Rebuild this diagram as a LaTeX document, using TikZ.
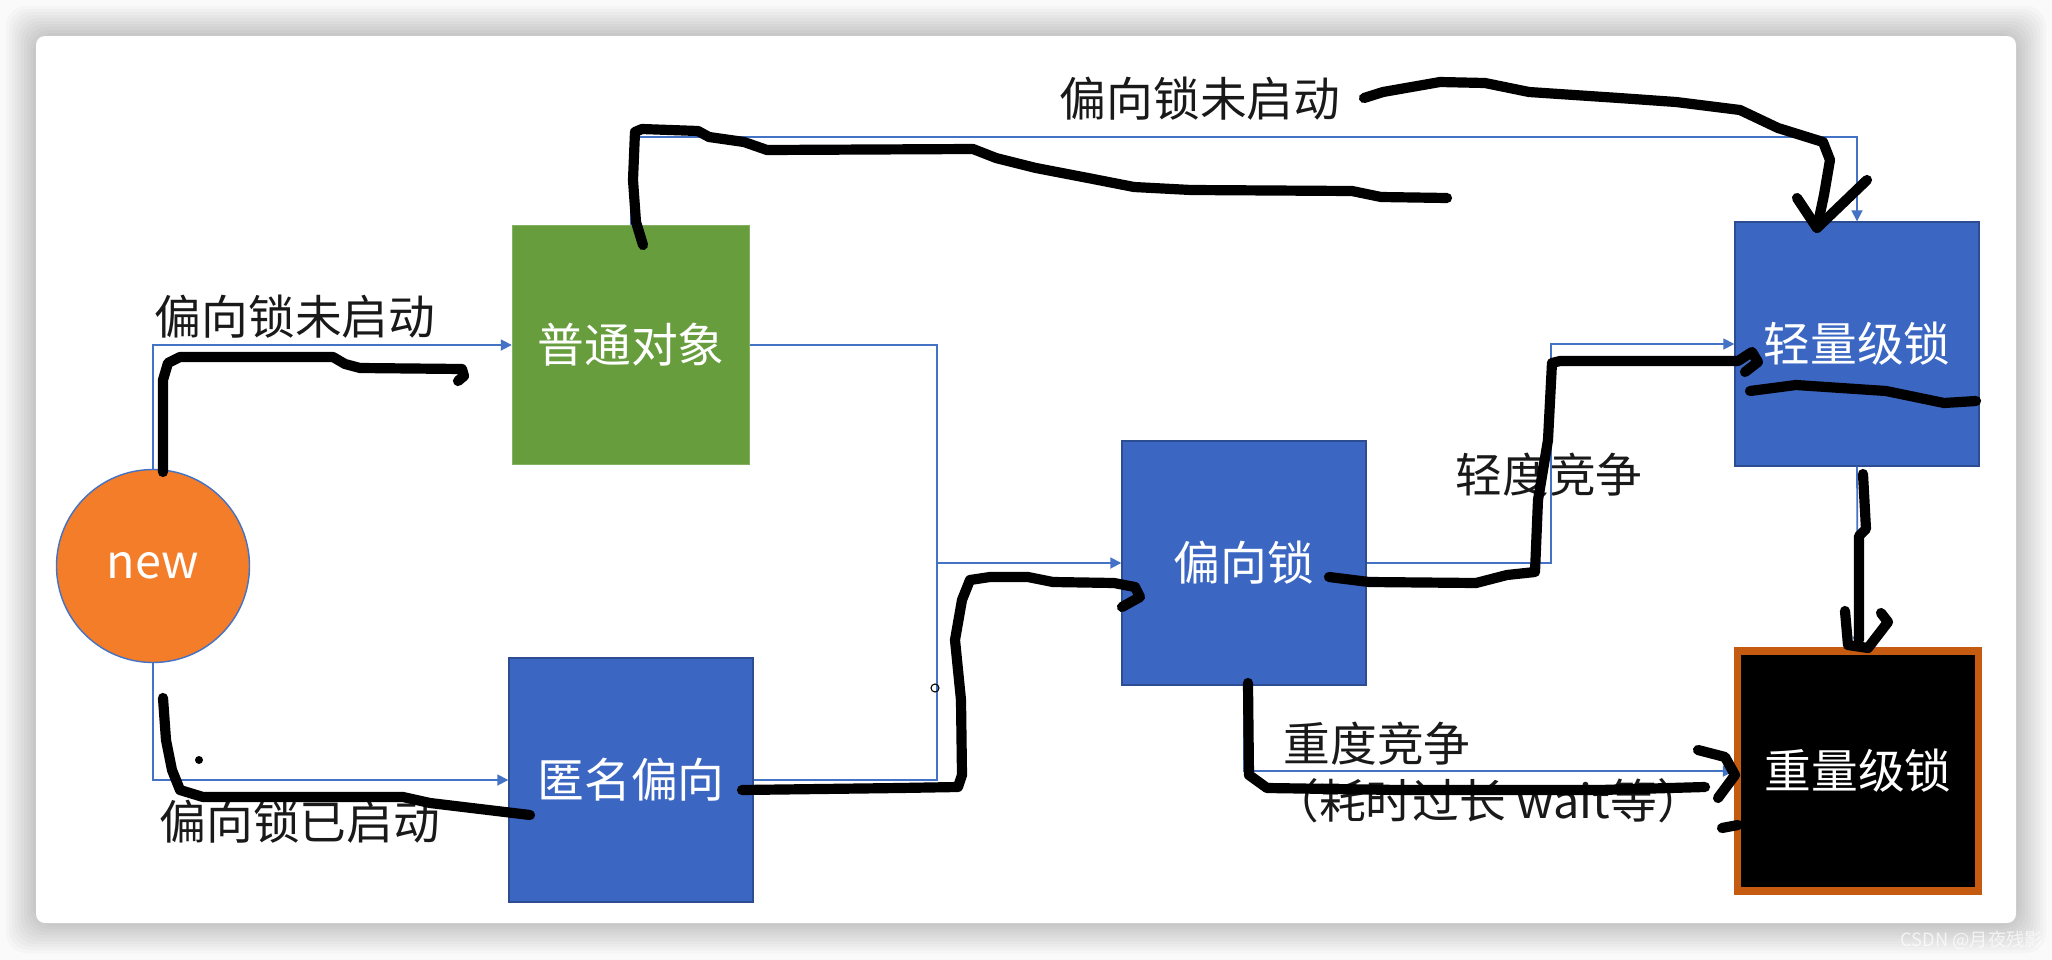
\documentclass[tikz,border=0pt]{standalone}
\usepackage{fontspec}
\setmainfont{Noto Sans CJK SC}
\usepackage{tikz}
\usetikzlibrary{arrows.meta,calc}
\definecolor{lineblue}{RGB}{68,114,196}
\definecolor{boxblue}{RGB}{59,103,195}
\definecolor{boxgreen}{RGB}{103,157,60}
\definecolor{neworange}{RGB}{244,125,42}
\definecolor{heavyedge}{RGB}{197,90,17}
\newcommand{\lbl}{\fontsize{13.3}{16}\selectfont}

\begin{document}
\begin{tikzpicture}[x=0.1mm,y=-0.1mm,
    box/.style={rectangle,minimum width=24.4mm,minimum height=24.4mm,inner sep=0pt,
      text=white,font=\lbl},
    tag/.style={inner sep=0pt,text=black!90,font=\lbl},
    conn/.style={draw=lineblue,line width=0.5pt,-{Triangle[length=1.1mm,width=1.1mm]}},
    ink/.style={draw=black,line width=2.9pt,line cap=round,line join=round}]
  \useasboundingbox (0,0) rectangle (2052,960);
  % page, shadow and card
  \fill[black!2] (0,0) rectangle (2052,960);
  \foreach \d in {30,27,...,3}
    \fill[black,opacity=0.02,rounded corners=2mm] ($(36,36)+(-\d,-\d)$) rectangle ($(2016,923)+(\d,\d)$);
  \fill[white,rounded corners=0.9mm] (36,36) rectangle (2016,923);

  % states
  \node[circle,fill=neworange,draw=lineblue,line width=0.4pt,minimum size=19.3mm,
    inner sep=0pt,text=white,font=\lbl] (new) at (153,566) {new};
  \node[box,fill=boxgreen,draw=boxgreen!80!white,minimum width=23.7mm,minimum height=23.9mm]
    (obj) at (631,345) {普通对象};
  \node[box,fill=boxblue,draw=boxblue!75!black] (anon) at (631,780) {匿名偏向};
  \node[box,fill=boxblue,draw=boxblue!75!black] (biased) at (1244,563) {偏向锁};
  \node[box,fill=boxblue,draw=boxblue!75!black] (light) at (1857,344) {轻量级锁};
  \node[box,fill=black,draw=heavyedge,line width=2pt,minimum width=24.1mm,minimum height=24mm]
    (heavy) at (1858,771) {重量级锁};

  % labels
  \node[tag] (off-left) at (295,317) {偏向锁未启动};
  \node[tag] (on-left) at (300,822) {偏向锁已启动};
  \node[tag] (off-top) at (1200,99) {偏向锁未启动};
  \node[tag] (mild) at (1549,475) {轻度竞争};
  \node[tag] (hard) at (1377,744) {重度竞争};
  \node[tag] (wait) at (1488,801) {（耗时过长 wait等）};

  % blue connectors
  \coordinate (jl) at (937,563);
  \coordinate (jr) at (1551,563);
  \coordinate (top) at (631,137);
  \draw[conn] (new.north) |- (obj.west);
  \draw[conn] (new.south) |- (anon.west);
  \draw[conn] (obj.east) -| (jl) -- (biased.west);
  \draw[conn,-] (anon.east) -| (jl);
  \draw[conn] (biased.east) -- (jr) |- (light.west);
  \draw[conn] (obj.north) -- (top) -| (light.north);
  \draw[conn] (biased.south) |- (heavy.west);
  \draw[conn] (light.south) -- (heavy.north);

  % pen strokes
  \draw[ink] (163,472) -- (163,380) -- (168,363) -- (180,357) -- (333,357) -- (345,364)
    -- (360,368) -- (462,369) -- (464,376) -- (458,381);
  \draw[ink] (163,698) -- (166,740) -- (172,770) -- (180,790) -- (203,797) -- (403,797)
    -- (430,803) -- (530,815);
  \fill (199,760) circle[radius=4];
  \draw[ink] (742,790) -- (900,788) -- (958,787) -- (962,775) -- (961,700) -- (955,640)
    -- (962,600) -- (970,580) -- (990,577) -- (1028,577) -- (1053,582) -- (1114,583)
    -- (1135,587) -- (1140,597) -- (1122,607);
  \draw[line width=0.3pt] (935,688) circle[radius=4];
  \draw[ink] (1329,577) -- (1369,582) -- (1476,583) -- (1507,575) -- (1535,572) -- (1538,500)
    -- (1548,440) -- (1552,363) -- (1560,361) -- (1738,361) -- (1752,352) -- (1758,362)
    -- (1745,372);
  \draw[ink] (1750,391) -- (1796,385) -- (1886,391) -- (1944,403) -- (1976,401);
  \draw[ink] (1863,474) -- (1866,529) -- (1859,536) -- (1859,640);
  \draw[ink] (1845,611) -- (1848,645) -- (1868,648) -- (1888,622) -- (1881,613);
  \draw[ink] (1248,683) -- (1249,775) -- (1267,788) -- (1400,790) -- (1600,790) -- (1705,787);
  \draw[ink] (1698,750) -- (1725,757) -- (1735,775) -- (1718,798);
  \draw[ink] (1722,828) -- (1738,825);
  \draw[ink] (643,245) -- (636,222) -- (633,180) -- (635,132) -- (642,129) -- (698,131)
    -- (709,137) -- (744,142) -- (767,150) -- (973,149) -- (996,158) -- (1036,168)
    -- (1088,178) -- (1134,187) -- (1191,190) -- (1352,191) -- (1381,197) -- (1447,198);
  \draw[ink] (1364,98) -- (1383,92) -- (1440,82) -- (1485,83) -- (1529,92) -- (1619,98)
    -- (1676,102) -- (1740,110) -- (1778,128) -- (1823,142) -- (1830,160) -- (1824,195)
    -- (1817,228);
  \draw[ink] (1797,198) -- (1817,228) -- (1867,180);

  % watermark
  \node[anchor=west,inner sep=0pt,text=white,opacity=0.7,font=\fontsize{5.2}{6}\selectfont]
    (mark) at (1900,940) {CSDN @月夜残影};
\end{tikzpicture}
\end{document}
